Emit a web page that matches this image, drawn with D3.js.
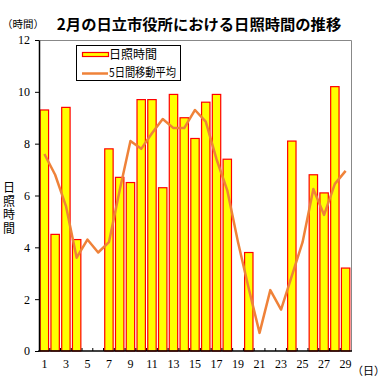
<!DOCTYPE html>
<html>
<head>
<meta charset="utf-8">
<script src="https://cdn.jsdelivr.net/npm/d3@7"></script>
<style>
    body { margin: 0; background: #fff; }
    svg { display: block; }
    .jp { font-family: "Noto Sans CJK JP", "Noto Sans", sans-serif; }
    .num { font-family: "Liberation Serif", "DejaVu Serif", serif; }
</style>
</head>
<body>
<svg id="chart" width="388" height="389"></svg>
<script>
var days = ["1", "2", "3", "4", "5", "6", "7", "8", "9", "10", "11", "12", "13", "14", "15",
    "16", "17", "18", "19", "20", "21", "22", "23", "24", "25", "26", "27", "28", "29"];
var sunHours = [9.3, 4.5, 9.4, 4.3, 0, 0, 7.8, 6.7, 6.5, 9.7, 9.7, 6.3, 9.9, 9.0, 8.2,
    9.6, 9.9, 7.4, 0, 3.8, 0, 0, 0, 8.1, 0, 6.8, 6.1, 10.2, 3.2];
var movingAvg = [7.6, 6.8, 5.6, 3.6, 4.3, 3.8, 4.2, 6.2, 8.1, 7.8, 8.4, 8.95, 8.6, 8.6, 9.3,
    8.85, 7.4, 6.2, 4.2, 2.4, 0.7, 2.35, 1.6, 2.9, 4.2, 6.25, 5.25, 6.45, 6.95];
var yTicks = [0, 2, 4, 6, 8, 10, 12];
var xLabels = ["1", "3", "5", "7", "9", "11", "13", "15", "17", "19", "21", "23", "25", "27", "29"];
var legendNames = ["日照時間", "5日間移動平均"];

document.addEventListener("DOMContentLoaded", function () {
    var svg = d3.select("#chart");
    var left = 39, right = 351, top = 40, bottom = 351;

    var x = d3.scaleBand()
        .domain(days)
        .range([left, right])
        .paddingInner(0.22)
        .paddingOuter(0.11);

    var y = d3.scaleLinear()
        .domain([0, 12])
        .range([bottom, top]);

    // frame: gray top and right
    svg.append("path")
        .attr("d", "M" + left + "," + (top + 0.5) + "H" + (right + 0.5) + "V" + bottom)
        .attr("fill", "none")
        .attr("stroke", "#888")
        .attr("stroke-width", 1);

    // bars
    var data = days.map(function (d, i) { return { day: d, v: sunHours[i], m: movingAvg[i] }; });

    svg.append("g")
        .selectAll("rect")
        .data(data.filter(function (d) { return d.v > 0; }))
        .enter()
        .append("rect")
        .attr("x", function (d) { return x(d.day); })
        .attr("y", function (d) { return y(d.v); })
        .attr("width", x.bandwidth())
        .attr("height", function (d) { return y(0) - y(d.v); })
        .attr("fill", "#ffff00")
        .attr("stroke", "#ff0000")
        .attr("stroke-width", 1.2);

    // moving average line
    var line = d3.line()
        .x(function (d) { return x(d.day) + x.bandwidth() / 2; })
        .y(function (d) { return y(d.m); });

    svg.append("path")
        .datum(data)
        .attr("d", line)
        .attr("fill", "none")
        .attr("stroke", "#ef8239")
        .attr("stroke-width", 2.5)
        .attr("stroke-linejoin", "round");

    // y axis
    var yAxis = svg.append("g")
        .attr("transform", "translate(" + left + ",0)")
        .call(d3.axisLeft(y).tickValues(yTicks).tickSize(4).tickPadding(5).tickSizeOuter(0));
    yAxis.select(".domain").attr("stroke", "#000").attr("stroke-width", 1.5);
    yAxis.selectAll("text")
        .attr("class", "num")
        .style("font-size", "12px")
        .attr("fill", "#000");

    // x axis: ticks between categories pointing inward
    var bounds = days.slice(1).map(function (d) { return x(d) - x.step() * x.paddingInner() / 2; });
    svg.append("g")
        .selectAll("line")
        .data(bounds)
        .enter()
        .append("line")
        .attr("x1", function (d) { return d; })
        .attr("x2", function (d) { return d; })
        .attr("y1", bottom)
        .attr("y2", bottom - 3)
        .attr("stroke", "#000");

    svg.append("line")
        .attr("x1", left - 0.75)
        .attr("x2", right + 1)
        .attr("y1", bottom)
        .attr("y2", bottom)
        .attr("stroke", "#000")
        .attr("stroke-width", 1.5);

    svg.append("g")
        .selectAll("text")
        .data(xLabels)
        .enter()
        .append("text")
        .attr("class", "num")
        .attr("x", function (d) { return x(d) + x.bandwidth() / 2; })
        .attr("y", 368)
        .attr("text-anchor", "middle")
        .style("font-size", "12px")
        .text(function (d) { return d; });

    // titles
    svg.append("text")
        .attr("class", "jp")
        .attr("x", 199)
        .attr("y", 30)
        .attr("text-anchor", "middle")
        .style("font-size", "15.3px")
        .style("font-weight", "bold")
        .text("2月の日立市役所における日照時間の推移");

    svg.append("text")
        .attr("class", "jp")
        .attr("x", 2)
        .attr("y", 28)
        .style("font-size", "10.5px")
        .text("（時間）");

    svg.append("text")
        .attr("class", "jp")
        .attr("x", 352)
        .attr("y", 375)
        .style("font-size", "11px")
        .text("（日）");

    // vertical y label
    svg.append("text")
        .attr("class", "jp")
        .attr("x", 9)
        .attr("y", 181.5)
        .style("writing-mode", "vertical-rl")
        .style("font-size", "12px")
        .style("letter-spacing", "1.5px")
        .text("日照時間");

    // legend
    var lg = svg.append("g");
    lg.append("rect")
        .attr("x", 76.5).attr("y", 45.5)
        .attr("width", 104).attr("height", 35)
        .attr("fill", "#fff")
        .attr("stroke", "#000");
    lg.append("rect")
        .attr("x", 82.5).attr("y", 52.5)
        .attr("width", 26).attr("height", 4)
        .attr("fill", "#ffff00")
        .attr("stroke", "#ff0000")
        .attr("stroke-width", 1.2);
    lg.append("line")
        .attr("x1", 82).attr("x2", 108)
        .attr("y1", 73.5).attr("y2", 73.5)
        .attr("stroke", "#ef8239")
        .attr("stroke-width", 2.5);
    lg.selectAll("text.lg")
        .data(legendNames)
        .enter()
        .append("text")
        .attr("class", "jp")
        .attr("x", 109)
        .attr("y", function (d, i) { return 59 + i * 18; })
        .attr("textLength", function (d, i) { return i === 0 ? 48 : 67; })
        .attr("lengthAdjust", "spacingAndGlyphs")
        .style("font-size", "12px")
        .text(function (d) { return d; });
});
</script>
</body>
</html>
